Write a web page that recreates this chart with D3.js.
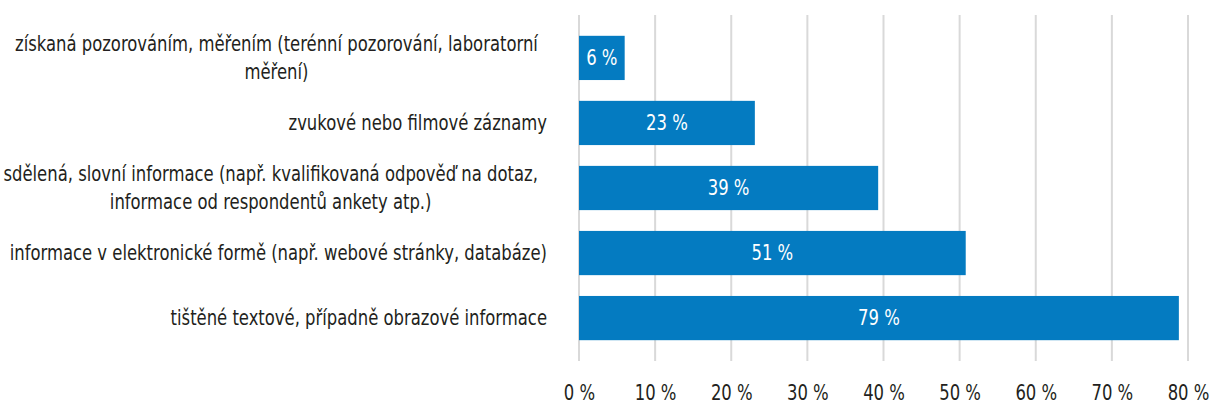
<!DOCTYPE html>
<html>
<head>
<meta charset="utf-8">
<script src="https://cdn.jsdelivr.net/npm/d3@7"></script>
<style>
	body { margin: 0; background: #fff; }
	svg text { font-family: "DejaVu Sans Condensed", "Liberation Sans Narrow", sans-serif; }
</style>
</head>
<body>
<svg id="chart" width="1210" height="405"></svg>
<script>
//Data
const CATEGORIES = [
	["získaná pozorováním, měřením (terénní pozorování, laboratorní", "měření)"],
	["zvukové nebo filmové záznamy"],
	["sdělená, slovní informace (např. kvalifikovaná odpověď na dotaz,", "informace od respondentů ankety atp.)"],
	["informace v elektronické formě (např. webové stránky, databáze)"],
	["tištěné textové, případně obrazové informace"]
];
const VALUES = [6.0, 23.1, 39.3, 50.8, 78.8];
const TICKS = [0, 10, 20, 30, 40, 50, 60, 70, 80];

const BAR_COLOR = "#047bc1";
const GRID_COLOR = "#d9d9d9";
const TEXT_COLOR = "#231f20";
const SQUEEZE = 0.87; // the original font is a condensed one

const svg = d3.select("#chart");
const plotLeft = 579, plotRight = 1188, plotTop = 15, plotBottom = 361;

const xScale = d3.scaleLinear().domain([0, 80]).range([plotLeft, plotRight]);
const yScale = d3.scaleBand().domain(d3.range(CATEGORIES.length)).range([plotTop, plotBottom]).padding(0.32);

// put a squeezed text at x,y
function squeezed(sel, x, y) {
	return sel.attr("x", 0).attr("y", 0)
		.attr("transform", "translate(" + x + "," + y + ") scale(" + SQUEEZE + ",1)");
}

// gridlines
svg.append("g")
	.selectAll("line")
	.data(TICKS)
	.enter().append("line")
	.attr("x1", d => xScale(d))
	.attr("x2", d => xScale(d))
	.attr("y1", plotTop)
	.attr("y2", plotBottom)
	.attr("stroke", GRID_COLOR)
	.attr("stroke-width", 2);

// x axis labels
const xAxis = svg.append("g")
	.attr("transform", "translate(0," + plotBottom + ")")
	.call(d3.axisBottom(xScale).tickValues(TICKS).tickSize(0).tickPadding(0).tickFormat(d => d + " %"));
xAxis.select(".domain").remove();
xAxis.attr("font-family", null);
xAxis.selectAll("text")
	.attr("font-size", "21px")
	.attr("fill", TEXT_COLOR)
	.attr("dy", "0.35em")
	.each(function () { squeezed(d3.select(this), 0, 32); });

// bars
svg.append("g")
	.selectAll("rect")
	.data(VALUES)
	.enter().append("rect")
	.attr("x", xScale(0))
	.attr("y", (d, i) => yScale(i))
	.attr("width", d => xScale(d) - xScale(0))
	.attr("height", yScale.bandwidth())
	.attr("fill", BAR_COLOR);

// value labels
svg.append("g")
	.selectAll("text")
	.data(VALUES)
	.enter().append("text")
	.attr("dy", "0.35em")
	.attr("text-anchor", "middle")
	.attr("font-size", "21px")
	.attr("fill", "#fff")
	.text(d => Math.round(d) + " %")
	.each(function (d, i) {
		squeezed(d3.select(this), (xScale(0) + xScale(d)) / 2, yScale(i) + yScale.bandwidth() / 2);
	});

// category labels
const labelRight = 547;
const blockRight = 538;
const lineH = 28;
CATEGORIES.forEach(function (lines, i) {
	const cy = yScale(i) + yScale.bandwidth() / 2;
	const g = svg.append("g");
	const texts = g.selectAll("text")
		.data(lines)
		.enter().append("text")
		.attr("dy", "0.35em")
		.attr("font-size", "21px")
		.attr("fill", TEXT_COLOR)
		.text(d => d);
	if (lines.length == 1) {
		texts.attr("text-anchor", "end")
			.each(function () { squeezed(d3.select(this), labelRight, cy); });
	} else {
		const w = d3.max(texts.nodes(), n => n.getComputedTextLength()) * SQUEEZE;
		texts.attr("text-anchor", "middle")
			.each(function (d, j) {
				squeezed(d3.select(this), blockRight - w / 2, cy + (j - (lines.length - 1) / 2) * lineH);
			});
	}
});
</script>
</body>
</html>
